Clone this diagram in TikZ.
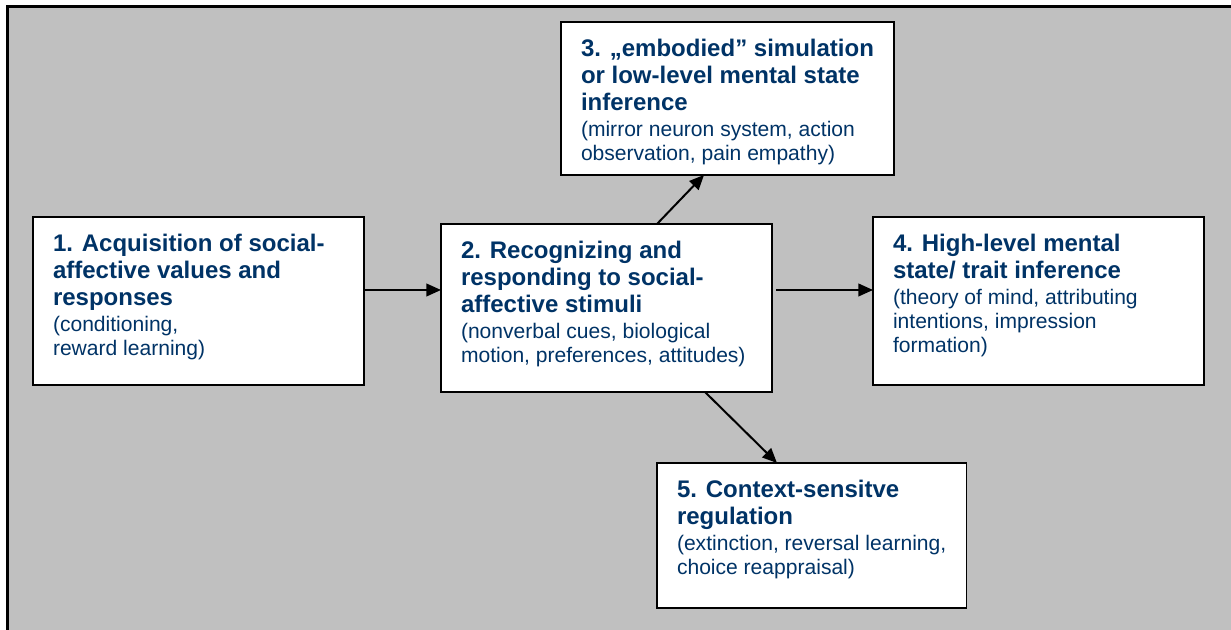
\documentclass[tikz,border=0pt]{standalone}
\usepackage{fontspec}
\setmainfont{Liberation Sans}
\usetikzlibrary{arrows.meta,calc}
\definecolor{bgray}{HTML}{C0C0C0}
\definecolor{tblue}{HTML}{003366}
\newcommand{\bxcontent}[4]{\parbox[t][#2][t]{#1}{\hbox to #1{}\nointerlineskip\vspace*{12.5pt}\fontsize{18}{20.5}\selectfont\bfseries #3\par\vspace{1.5pt}\fontsize{15.8}{18}\selectfont\mdseries #4}}
\begin{document}
\begin{tikzpicture}[x=0.75pt,y=-0.75pt,
  panel/.style={draw=black,fill=white,line width=1.1pt,inner xsep=15pt,inner ysep=0pt,outer sep=0pt,anchor=north west,text=tblue},
  arr/.style={draw=black,line width=1.5pt,-{Triangle[length=11pt,width=9.5pt]}}]
\useasboundingbox (0,0) rectangle (1231,630);
\fill[white] (0,0) rectangle (1231,630);
\fill[bgray] (7.5,6.5) rectangle (1231,630);
\draw[line width=1.6pt,black] (7.5,630) -- (7.5,6.5) -- (1231,6.5);

\node[panel] (b1) at (33,217) {\bxcontent{218.25pt}{126pt}{\hbox{1. Acquisition of social-}\hbox{affective values and}\hbox{responses}}{\hbox{(conditioning,}\hbox{reward learning)}}};
\node[panel] (b2) at (441,224) {\bxcontent{218.25pt}{126pt}{\hbox{2. Recognizing and}\hbox{responding to social-}\hbox{affective stimuli}}{\hbox{(nonverbal cues, biological}\hbox{motion, preferences, attitudes)}}};
\node[panel] (b3) at (561,22) {\bxcontent{200.25pt}{114.75pt}{\hbox{3. „embodied” simulation}\hbox{or low-level mental state}\hbox{inference}}{\hbox{(mirror neuron system, action}\hbox{observation, pain empathy)}}};
\node[panel] (b4) at (873,217) {\bxcontent{218.25pt}{126pt}{\hbox{4. High-level mental}\hbox{state/ trait inference}}{\hbox{(theory of mind, attributing}\hbox{intentions, impression}\hbox{formation)}}};
\node[panel] (b5) at (657,463) {\bxcontent{199.5pt}{108.75pt}{\hbox{5. Context-sensitve}\hbox{regulation}}{\hbox{(extinction, reversal learning,}\hbox{choice reappraisal)}}};

\draw[arr] ($(b1.north east)+(0,73)$) -- ($(b2.north west)+(0,66)$);
\draw[arr] ($(b2.north east)+(4,66)$) -- ($(b4.north west)+(0,73)$);
\draw[arr] ($(b2.north west)+(216,0)$) -- ($(b3.south west)+(143,0)$);
\draw[arr] ($(b2.south west)+(264,0)$) -- ($(b5.north west)+(120,0)$);
\end{tikzpicture}
\end{document}
